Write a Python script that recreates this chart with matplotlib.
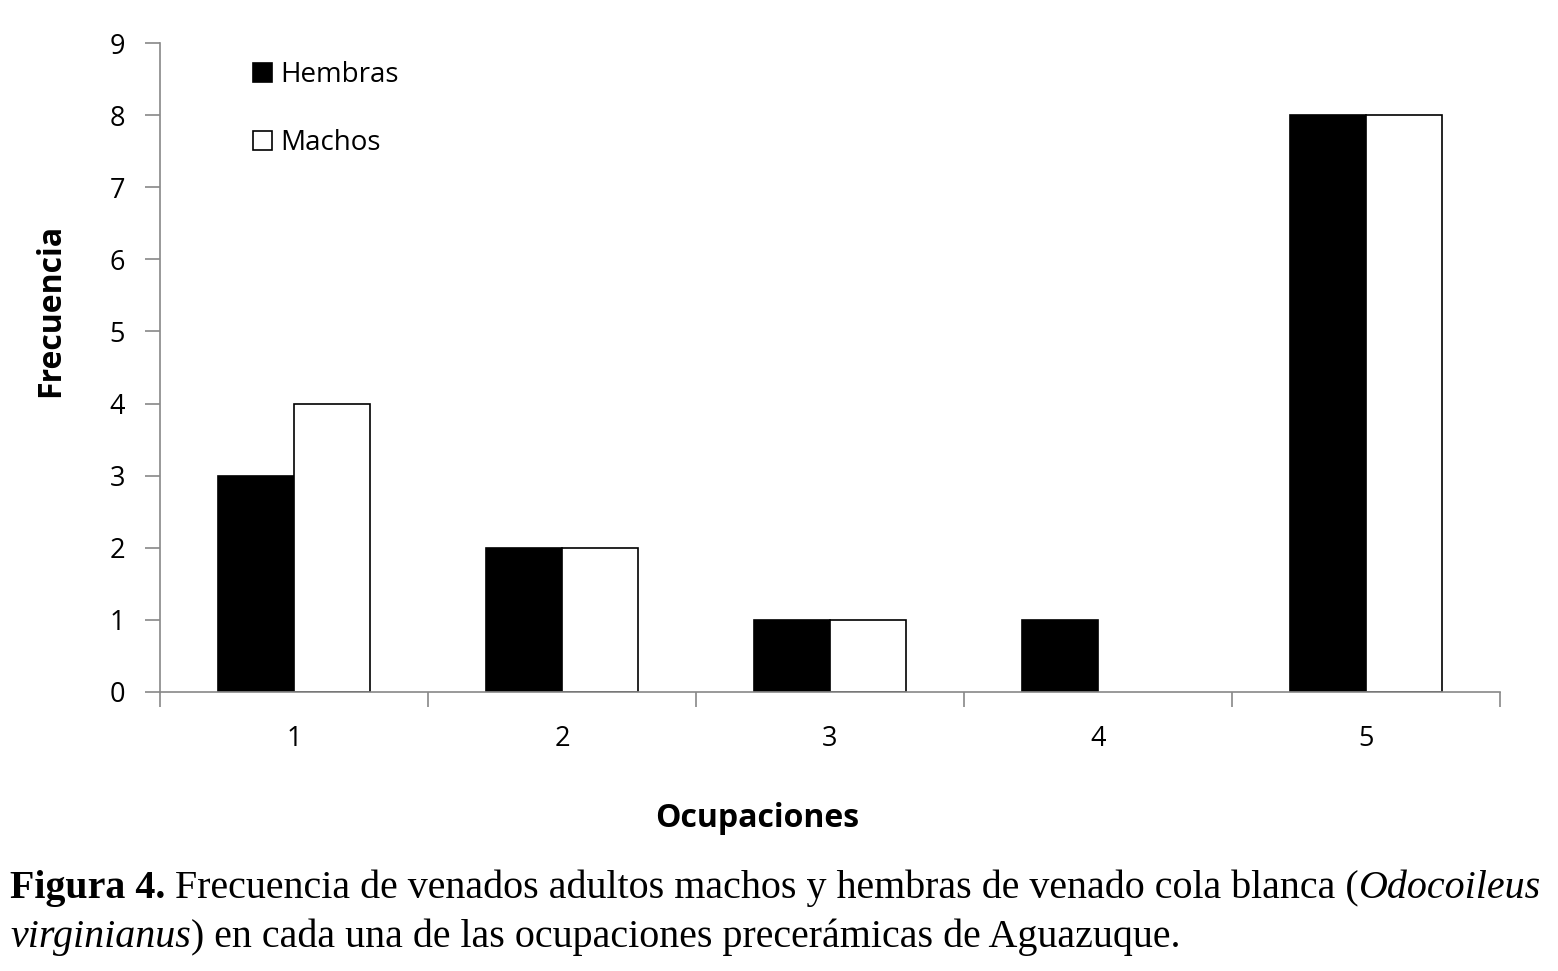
import matplotlib
matplotlib.use("Agg")
import matplotlib.pyplot as plt
import numpy as np

categories = ["1", "2", "3", "4", "5"]
hembras = [3, 2, 1, 1, 8]
machos = [4, 2, 1, 0, 8]
yticks = list(range(0, 10))

W, H = 1558, 971
fig = plt.figure(figsize=(W / 100, H / 100), dpi=100)
ax = fig.add_axes([160 / W, 1 - 692 / H, 1340 / W, 649 / H])

sans = ["Open Sans", "DejaVu Sans"]
serif = ["Liberation Serif", "DejaVu Serif"]

x = np.arange(len(categories))
w = 76 / 268
bh = ax.bar(x - w / 2, hembras, width=w, color="black", edgecolor="black", linewidth=1.2, label="Hembras")
bm = ax.bar(x + w / 2, machos, width=w, color="white", edgecolor="black", linewidth=1.2, label="Machos")
for rect, v in zip(list(bh) + list(bm), hembras + machos):
    if v == 0:
        rect.set_linewidth(0)

ax.set_xlim(-0.5, len(categories) - 0.5)
ax.set_ylim(0, 9)
ax.set_yticks(yticks)
ax.set_yticklabels([str(v) for v in yticks], fontfamily=sans, fontsize=19.5)
ax.set_xticks(x)
ax.set_xticklabels(categories, fontfamily=sans, fontsize=19.5)
ax.set_xticks(np.arange(-0.5, len(categories)), minor=True)
ax.tick_params(axis="x", which="major", length=0, pad=24)
ax.tick_params(axis="x", which="minor", length=11, color="#888888", width=1.2)
ax.tick_params(axis="y", length=11, color="#888888", width=1.2, pad=14)
for s in ["top", "right"]:
    ax.spines[s].set_visible(False)
for s in ["left", "bottom"]:
    ax.spines[s].set_color("#888888")
    ax.spines[s].set_linewidth(1.2)

fig.text(51 / W, 1 - 310 / H, "Frecuencia", fontfamily=sans, fontsize=23,
         fontweight="bold", rotation=90, ha="center", va="center")
fig.text(757 / W, 1 - 818 / H, "Ocupaciones", fontfamily=sans, fontsize=23,
         fontweight="bold", ha="center", va="center")

leg = ax.legend(loc="upper left", bbox_to_anchor=(93 / 1340, (692 - 61) / 649), frameon=False,
                prop={"family": sans, "size": 20}, handlelength=0.68, handleheight=0.68,
                handletextpad=0.3, labelspacing=1.45, borderpad=0, borderaxespad=0)

# caption with mixed styles
fig.canvas.draw()
renderer = fig.canvas.get_renderer()

def draw_runs(runs, x0, y0, size):
    xp = x0
    for txt, weight, style in runs:
        t = fig.text(xp / W, 1 - y0 / H, txt, fontfamily=serif, fontsize=size,
                     fontweight=weight, fontstyle=style, ha="left", va="baseline")
        bb = t.get_window_extent(renderer=renderer)
        xp = bb.x1

size = 28.8
draw_runs([("Figura 4.", "bold", "normal"),
           (" Frecuencia de venados adultos machos y hembras de venado cola blanca (", "normal", "normal"),
           ("Odocoileus", "normal", "italic")], 10, 898, size)
draw_runs([("virginianus", "normal", "italic"),
           (") en cada una de las ocupaciones precerámicas de Aguazuque.", "normal", "normal")], 10, 947, size)

fig.savefig("out.png", dpi=100)
